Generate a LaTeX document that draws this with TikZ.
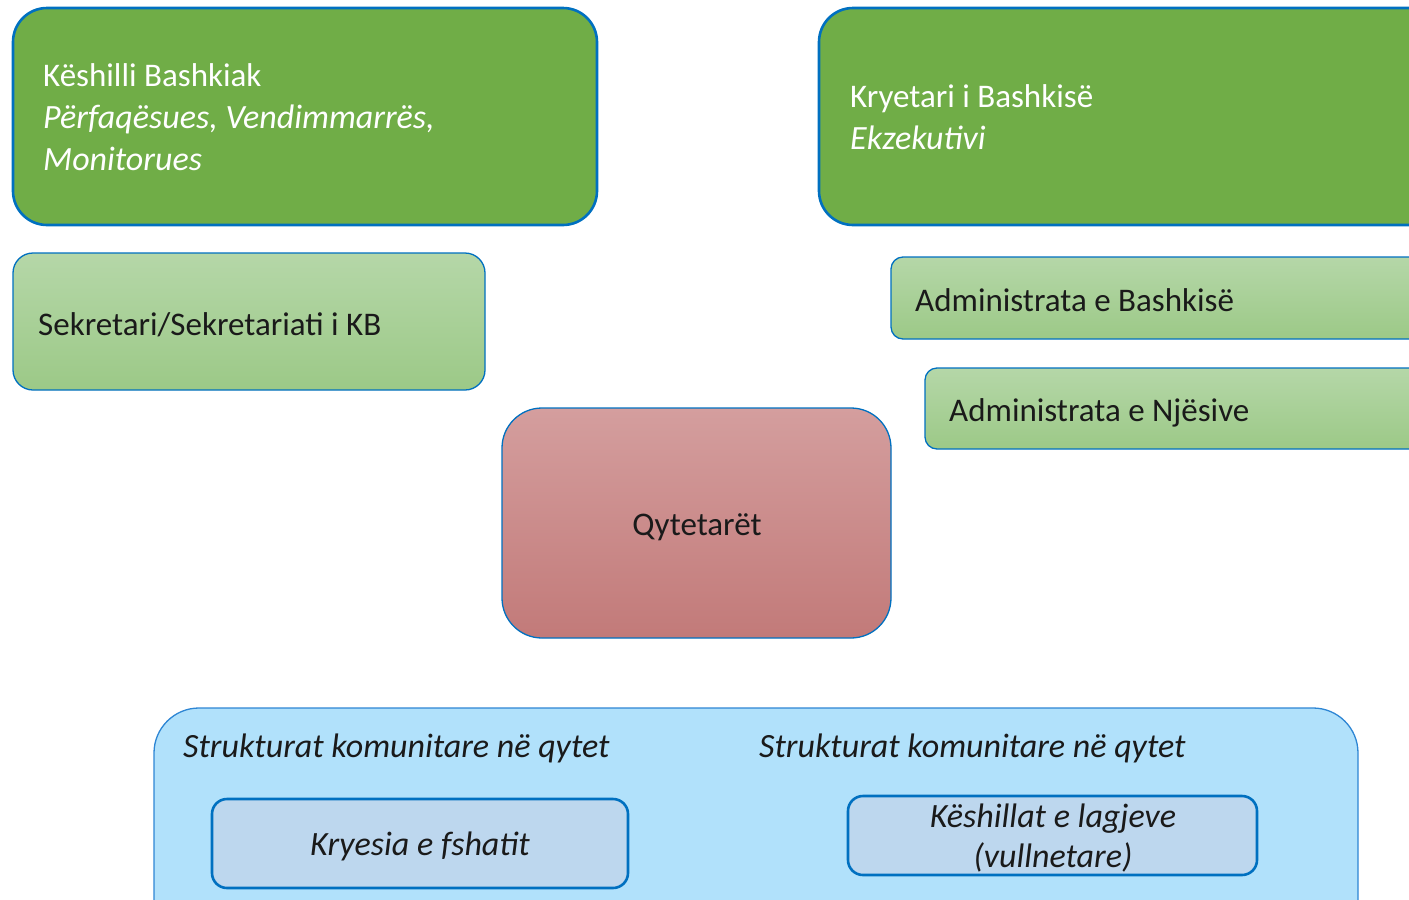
\documentclass[tikz,border=0pt]{standalone}
\usepackage{fontspec}
\setmainfont{Carlito}
\definecolor{bordblue}{HTML}{0070C0}
\definecolor{lineblue}{HTML}{2E86D4}
\definecolor{darkgreen}{HTML}{70AD47}
\definecolor{lgtop}{HTML}{B5D7A8}
\definecolor{lgbot}{HTML}{9CC987}
\definecolor{rosetop}{HTML}{D49E9E}
\definecolor{rosebot}{HTML}{C27A79}
\definecolor{skyfill}{HTML}{B1E1FB}
\definecolor{innerfill}{HTML}{BDD7EE}
\definecolor{txtdark}{HTML}{1A1A1A}
\newcommand{\itl}{\fontsize{34}{42}\selectfont\itshape}
\begin{document}
\begin{tikzpicture}[x=1pt,y=-1pt,
  boxbase/.style={anchor=north west, inner sep=0pt, outer sep=0pt},
  mainbox/.style={boxbase, draw=bordblue, line width=2.6pt, fill=darkgreen, rounded corners=34pt},
  lightbox/.style={boxbase, draw=bordblue, line width=1.3pt, top color=lgtop, bottom color=lgbot, rounded corners=#1},
  rosebox/.style={boxbase, draw=bordblue, line width=1.3pt, top color=rosetop, bottom color=rosebot, rounded corners=40pt},
  skybox/.style={boxbase, draw=lineblue, line width=1.3pt, fill=skyfill, rounded corners=45pt},
  innerbox/.style={boxbase, draw=bordblue, line width=2.6pt, fill=innerfill, rounded corners=15pt},
  whitetxt/.style={inner sep=0pt, text=white, align=left, font=\fontsize{33}{42}\selectfont},
  darktxt/.style={inner sep=0pt, text=txtdark, font=\fontsize{33}{42}\selectfont},
  italtxt/.style={inner sep=0pt, text=txtdark, align=center, font=\fontsize{34}{40}\selectfont\itshape}
]
\useasboundingbox (0,0) rectangle (1409,900);
\clip (0,0) rectangle (1409,900);

% top green boxes
\node[mainbox, minimum width=584pt, minimum height=217pt] (kb) at (13,8) {};
\node[whitetxt, anchor=west] (kbt) at (43,117) {Këshilli Bashkiak\\\itl Përfaqësues, Vendimmarrës,\\\itl Monitorues};
\node[mainbox, minimum width=640pt, minimum height=217pt] (kr) at (819,8) {};
\node[whitetxt, anchor=west] (krt) at (850,117) {Kryetari i Bashkisë\\\itl Ekzekutivi};

% light green boxes
\node[lightbox=20pt, minimum width=472pt, minimum height=137pt] (sk) at (13,253) {};
\node[darktxt, anchor=base west] (skt) at (38,335) {Sekretari/Sekretariati i KB};
\node[lightbox=12pt, minimum width=560pt, minimum height=82pt] (ab) at (891,257) {};
\node[darktxt, anchor=base west] (abt) at (915,311) {Administrata e Bashkisë};
\node[lightbox=12pt, minimum width=530pt, minimum height=81pt] (an) at (925,368) {};
\node[darktxt, anchor=base west] (ant) at (949,421) {Administrata e Njësive};

% citizens
\node[rosebox, minimum width=389pt, minimum height=230pt] (qy) at (502,408) {};
\node[darktxt, anchor=base] (qyt) at (697,535) {Qytetarët};

% community structures
\node[skybox, minimum width=1204pt, minimum height=260pt] (st) at (154,708) {};
\node[darktxt, anchor=base west, font=\itl] (st1) at (183,757) {Strukturat komunitare në qytet};
\node[darktxt, anchor=base west, font=\itl] (st2) at (759,757) {Strukturat komunitare në qytet};
\node[innerbox, minimum width=416pt, minimum height=89pt] (kf) at (212,799) {};
\node[italtxt, anchor=base] (kft) at (420,855) {Kryesia e fshatit};
\node[innerbox, minimum width=409pt, minimum height=79pt] (kl) at (848,796) {};
\node[italtxt, anchor=base] (klt) at (1053,867) {Këshillat e lagjeve\\(vullnetare)};
\end{tikzpicture}
\end{document}
